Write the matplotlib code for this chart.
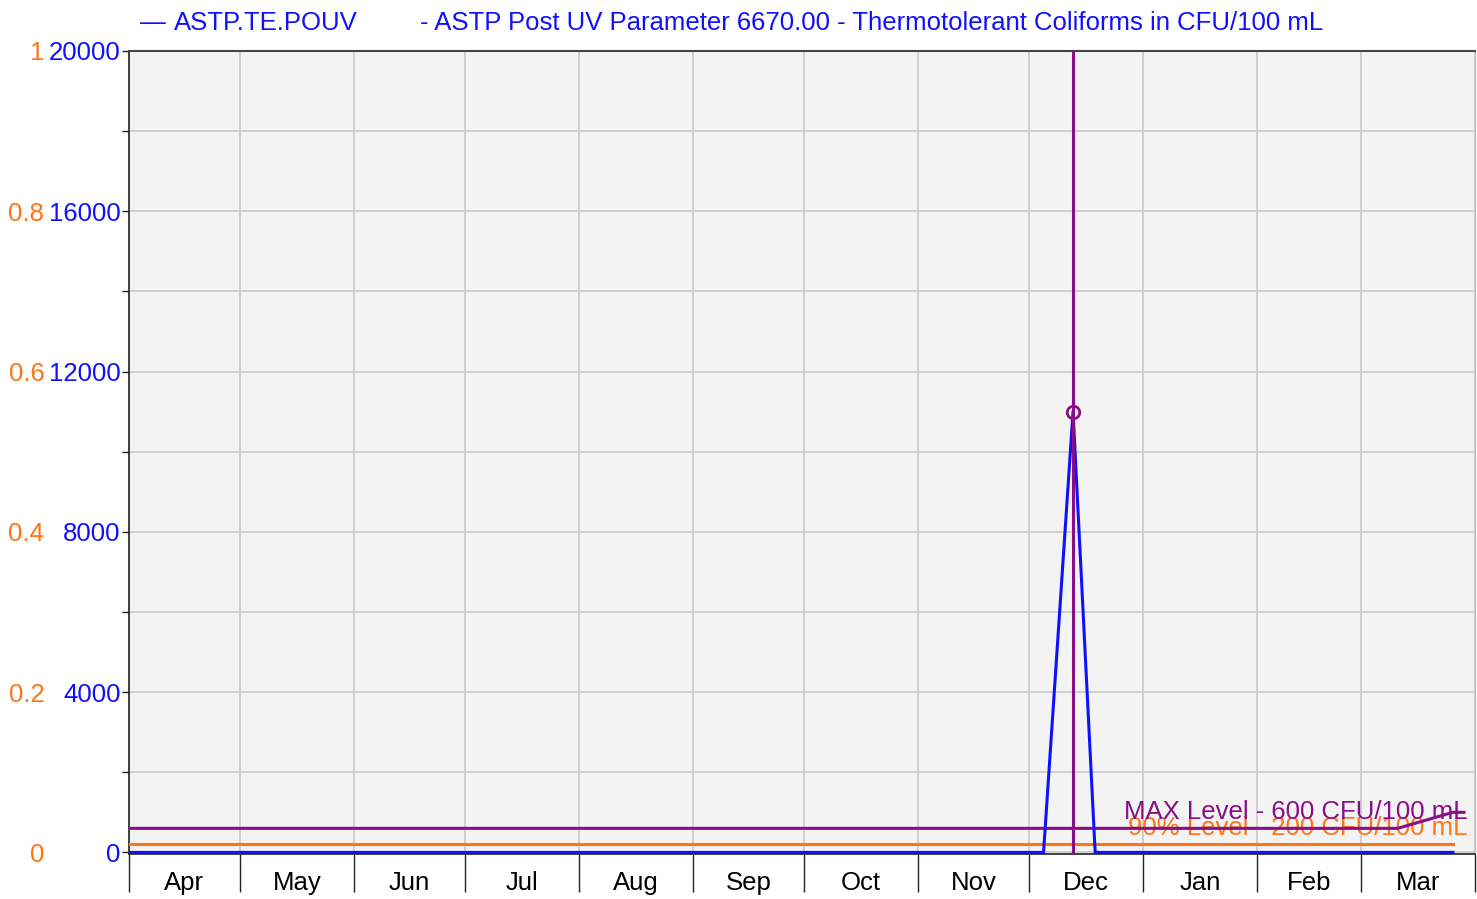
import numpy as np
import matplotlib
matplotlib.use("Agg")
import matplotlib.pyplot as plt
import matplotlib.dates as mdates

plt.rcParams['font.family'] = ['Liberation Sans', 'DejaVu Sans']

# sample results (CFU/100 mL)
sample_dates = ["2017-04-01", "2017-12-05", "2017-12-13", "2017-12-19", "2018-03-26"]
sample_vals = [0, 0, 11000, 0, 0]

# max exceedance marker
peak_date = "2017-12-13"
peak_val = 11000

# limit lines
max_dates = ["2017-04-01", "2018-03-11", "2018-03-26", "2018-03-29"]
max_vals = [600, 600, 1000, 1000]
p90_dates = ["2017-04-01", "2018-03-26"]
p90_vals = [200, 200]

month_starts = ["2017-04-01", "2017-05-01", "2017-06-01", "2017-07-01", "2017-08-01",
                "2017-09-01", "2017-10-01", "2017-11-01", "2017-12-01", "2018-01-01",
                "2018-02-01", "2018-03-01", "2018-04-01"]
month_labels = ["Apr", "May", "Jun", "Jul", "Aug", "Sep", "Oct", "Nov", "Dec",
                "Jan", "Feb", "Mar"]

blue_ticks = [0, 4000, 8000, 12000, 16000, 20000]
orange_ticks = [0, 0.2, 0.4, 0.6, 0.8, 1]

BLUE = "#1010ff"
ORANGE = "#ff7415"
PURPLE = "#880f88"
FS = 18.5


def d(lst):
    return mdates.datestr2num(lst)


fig = plt.figure(figsize=(14.77, 8.99), dpi=100)
ax = fig.add_axes([129 / 1477, 1 - 854 / 899, 1346 / 1477, 803 / 899])
ax.set_facecolor("#f3f3f3")

ms = d(month_starts)
ax.set_xlim(ms[0], ms[-1])
ax.set_ylim(-40, 20000)

# grid
ax.set_xticks(ms)
ax.set_xticklabels([])
ax.set_xticks((ms[:-1] + ms[1:]) / 2, minor=True)
ax.set_xticklabels(month_labels, minor=True, fontsize=FS)
ax.tick_params(axis='x', which='major', length=27, width=1, color='#222222')
ax.tick_params(axis='x', which='minor', length=0, pad=12.5)
ax.set_yticks(blue_ticks)
ax.set_yticklabels([str(v) for v in blue_ticks], color=BLUE, fontsize=FS)
ax.set_yticks(np.arange(2000, 20000, 4000), minor=True)
ax.tick_params(axis='y', which='both', length=5, width=1, pad=1, color='#222222')
ax.grid(True, which='major', axis='x', color='#c8c8c8', lw=1.2)
ax.grid(True, which='both', axis='y', color='#c8c8c8', lw=1.2)
ax.set_axisbelow(True)

for s in ['left', 'bottom']:
    ax.spines[s].set_color('#222222')
    ax.spines[s].set_linewidth(1.2)
ax.spines['top'].set_color('#444444')
ax.spines['top'].set_linewidth(1.5)
ax.spines['right'].set_color('#bbbbbb')

# data
ax.plot(d(max_dates), max_vals, color=PURPLE, lw=2.2, zorder=3)
ax.plot(d(p90_dates), p90_vals, color=ORANGE, lw=2.2, zorder=3)
ax.plot(d(sample_dates), sample_vals, color=BLUE, lw=2.2, zorder=4)
ax.axvline(d(peak_date), color=PURPLE, lw=2.2, zorder=5)
ax.plot([d(peak_date)], [peak_val], 'o', mfc='none', mec=PURPLE, mew=2, ms=9, zorder=6)

# limit labels overlap each other in the original too
ax.text(d("2018-03-30"), 1010, "MAX Level - 600 CFU/100 mL", color=PURPLE,
        fontsize=FS, ha='right', va='center', zorder=7)
ax.text(d("2018-03-30"), 600, "90% Level - 200 CFU/100 mL", color=ORANGE,
        fontsize=FS, ha='right', va='center', zorder=2)

# secondary (orange) scale on the left
ax2 = ax.twinx()
ax2.set_ylim(-40 / 20000, 1)
ax2.yaxis.tick_left()
ax2.set_yticks(orange_ticks)
ax2.set_yticklabels(["0", "0.2", "0.4", "0.6", "0.8", "1"], color=ORANGE, fontsize=FS)
ax2.tick_params(axis='y', length=0, pad=61)
for s in ax2.spines.values():
    s.set_visible(False)

# legend / title line
ty = 1 - 23.5 / 899
fig.text(140 / 1477, ty, "\u2014", color=BLUE, fontsize=FS, va='center')
fig.text(174 / 1477, ty, "ASTP.TE.POUV", color=BLUE, fontsize=FS, va='center')
fig.text(420 / 1477, ty,
         "- ASTP Post UV Parameter 6670.00 - Thermotolerant Coliforms in CFU/100 mL",
         color=BLUE, fontsize=FS, va='center')

fig.savefig("out.png", dpi=100)
